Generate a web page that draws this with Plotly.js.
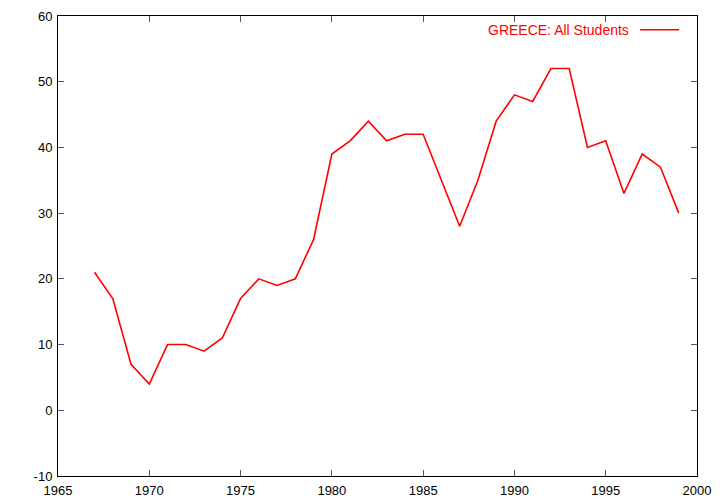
<!DOCTYPE html>
<html>
<head>
<meta charset="utf-8">
<script src="https://cdn.plot.ly/plotly-3.0.1.min.js"></script>
<style>html,body{margin:0;padding:0;background:#fff;}#chart{width:720px;height:504px;}</style>
</head>
<body>
<div id="chart"></div>
<script>
const years = [1967,1968,1969,1970,1971,1972,1973,1974,1975,1976,1977,1978,1979,1980,1981,1982,1983,1984,1985,1986,1987,1988,1989,1990,1991,1992,1993,1994,1995,1996,1997,1998,1999];
const values = [21,17,7,4,10,10,9,11,17,20,19,20,26,39,41,44,41,42,42,35,28,35,44,48,47,52,52,40,41,33,39,37,30];
const seriesName = "GREECE: All Students";
const xTicks = [1965,1970,1975,1980,1985,1990,1995,2000];
const yTicks = [-10,0,10,20,30,40,50,60];

const trace = {
  x: years, y: values, type: 'scatter', mode: 'lines',
  name: seriesName,
  line: {color: '#ff0000', width: 1.6},
  showlegend: false
};

const axisCommon = {
  showgrid: false, zeroline: false,
  showline: true, linecolor: '#000', linewidth: 1,
  mirror: 'ticks', ticks: 'inside', ticklen: 6, tickcolor: '#555', tickwidth: 1,
  tickfont: {family: 'Liberation Sans, Arial, sans-serif', size: 13, color: '#000'}
};

const layout = {
  width: 720, height: 504,
  margin: {l: 58, r: 23, t: 16, b: 28},
  paper_bgcolor: '#fff', plot_bgcolor: '#fff',
  xaxis: Object.assign({}, axisCommon, {range: [1965, 2000], tickvals: xTicks, ticktext: xTicks.map(String), ticklabelstandoff: 2}),
  yaxis: Object.assign({}, axisCommon, {range: [-10, 60], tickvals: yTicks, ticktext: yTicks.map(String), ticklabelstandoff: 2}),
  annotations: [{
    xref: 'paper', yref: 'paper', x: 0.897, y: 0.97, xanchor: 'right', yanchor: 'middle',
    text: seriesName, showarrow: false,
    font: {family: 'Liberation Sans, Arial, sans-serif', size: 14, color: '#ff0000'}
  }],
  shapes: [{
    type: 'line', xref: 'paper', yref: 'paper', x0: 0.911, x1: 0.972, y0: 0.97, y1: 0.97,
    line: {color: '#ff0000', width: 1.6}
  }]
};

Plotly.newPlot('chart', [trace], layout, {displayModeBar: false, staticPlot: true});
</script>
</body>
</html>
